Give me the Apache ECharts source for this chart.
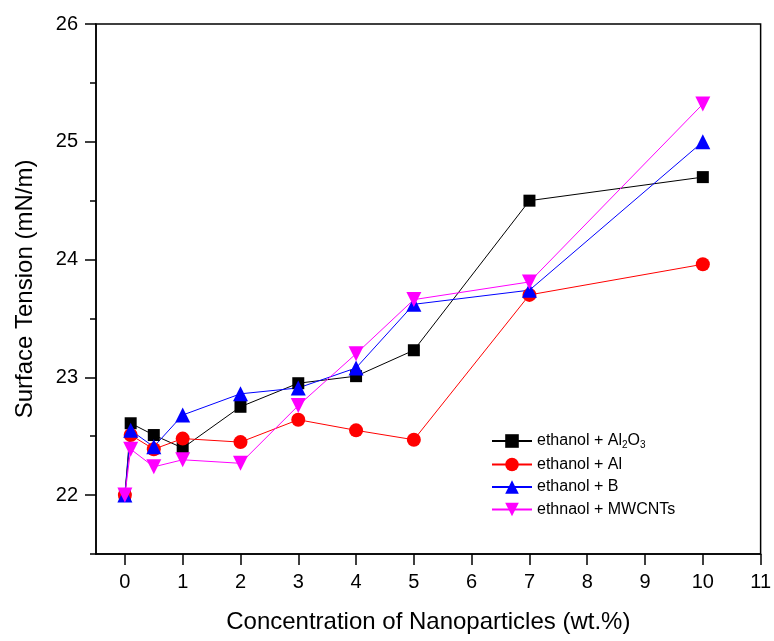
<!DOCTYPE html>
<html><head><meta charset="utf-8">
<script src="https://cdn.jsdelivr.net/npm/echarts@6/dist/echarts.min.js"></script>
<style>html,body{margin:0;padding:0;background:#fff}#c{width:774px;height:641px}</style>
</head><body><div id="c"></div>
<script>
var concentration = [0, 0.1, 0.5, 1, 2, 3, 4, 5, 7, 10];
var al2o3 = [22.0, 22.61, 22.51, 22.40, 22.75, 22.95, 23.01, 23.23, 24.50, 24.70];
var al = [22.0, 22.51, 22.39, 22.48, 22.45, 22.64, 22.55, 22.47, 23.70, 23.96];
var boron = [22.0, 22.55, 22.41, 22.68, 22.86, 22.91, 23.08, 23.62, 23.74, 25.00];
var mwcnt = [22.0, 22.39, 22.24, 22.30, 22.27, 22.76, 23.20, 23.66, 23.81, 25.32];
var xTicks = [0,1,2,3,4,5,6,7,8,9,10,11];
var yTicks = [22,23,24,25,26];
var yMinorTicks = [21.5,22.5,23.5,24.5,25.5];
var names = ['ethanol + Al2O3','ethanol + Al','ethanol + B','ethnaol + MWCNTs'];

function pairs(ys){ return concentration.map(function(x,i){return [x, ys[i]];}); }
var FONT = 'Liberation Sans, Arial, sans-serif';
var chart = echarts.init(document.getElementById('c'), null, {renderer:'canvas'});
function mk(name, data, color, symbol, size, rotate){
  return {name:name, type:'line', data:pairs(data), symbol:symbol, symbolSize:size, symbolRotate:rotate||0,
    lineStyle:{color:color,width:1}, itemStyle:{color:color}, animation:false, z:2};
}
chart.setOption({
  animation:false,
  grid:{left:96,right:13,top:24,bottom:87,show:true,borderColor:'#000',borderWidth:1.5,backgroundColor:'transparent'},
  legend:{
    left:486, top:428, orient:'vertical', itemWidth:40, itemHeight:17, itemGap:6.5,
    data:names,
    textStyle:{fontFamily:FONT,fontSize:16,color:'#000',
      rich:{a:{fontFamily:FONT,fontSize:16,color:'#000'},s:{fontFamily:FONT,fontSize:10,color:'#000',verticalAlign:'bottom',padding:[8,0,0,0]}}},
    formatter:function(n){
      if(n==='ethanol + Al2O3') return '{a|ethanol + Al}{s|2}{a|O}{s|3}';
      return '{a|'+n+'}';
    }
  },
  xAxis:{type:'value',min:-0.5,max:11,
    name:'Concentration of Nanoparticles (wt.%)',nameLocation:'middle',nameGap:56,
    nameTextStyle:{fontFamily:FONT,fontSize:24,color:'#000'},
    axisLine:{onZero:false,lineStyle:{color:'#000',width:1.5}},
    axisTick:{customValues:xTicks,length:11,inside:false,lineStyle:{color:'#000',width:1.5}},
    axisLabel:{customValues:xTicks,fontFamily:FONT,fontSize:20,color:'#000',margin:18},
    splitLine:{show:false}
  },
  yAxis:[{type:'value',min:21.5,max:26,
    name:'Surface Tension (mN/m)',nameLocation:'middle',nameGap:59,
    nameTextStyle:{fontFamily:FONT,fontSize:24,color:'#000'},
    axisLine:{onZero:false,lineStyle:{color:'#000',width:1.5}},
    axisTick:{customValues:yTicks,length:11,lineStyle:{color:'#000',width:1.5}},
    axisLabel:{customValues:yTicks,fontFamily:FONT,fontSize:20,color:'#000',margin:18},
    splitLine:{show:false}
  },{type:'value',min:21.5,max:26,position:'left',
    axisLine:{show:false,onZero:false},
    axisTick:{customValues:yMinorTicks,length:6,lineStyle:{color:'#000',width:1.5}},
    axisLabel:{show:false},
    splitLine:{show:false}
  }],
  series:[
    mk(names[0], al2o3, '#000000', 'rect', 12),
    mk(names[1], al, '#ff0000', 'circle', 14),
    mk(names[2], boron, '#0000ff', 'triangle', 15),
    mk(names[3], mwcnt, '#ff00ff', 'triangle', 15, 180)
  ]
});
</script></body></html>
